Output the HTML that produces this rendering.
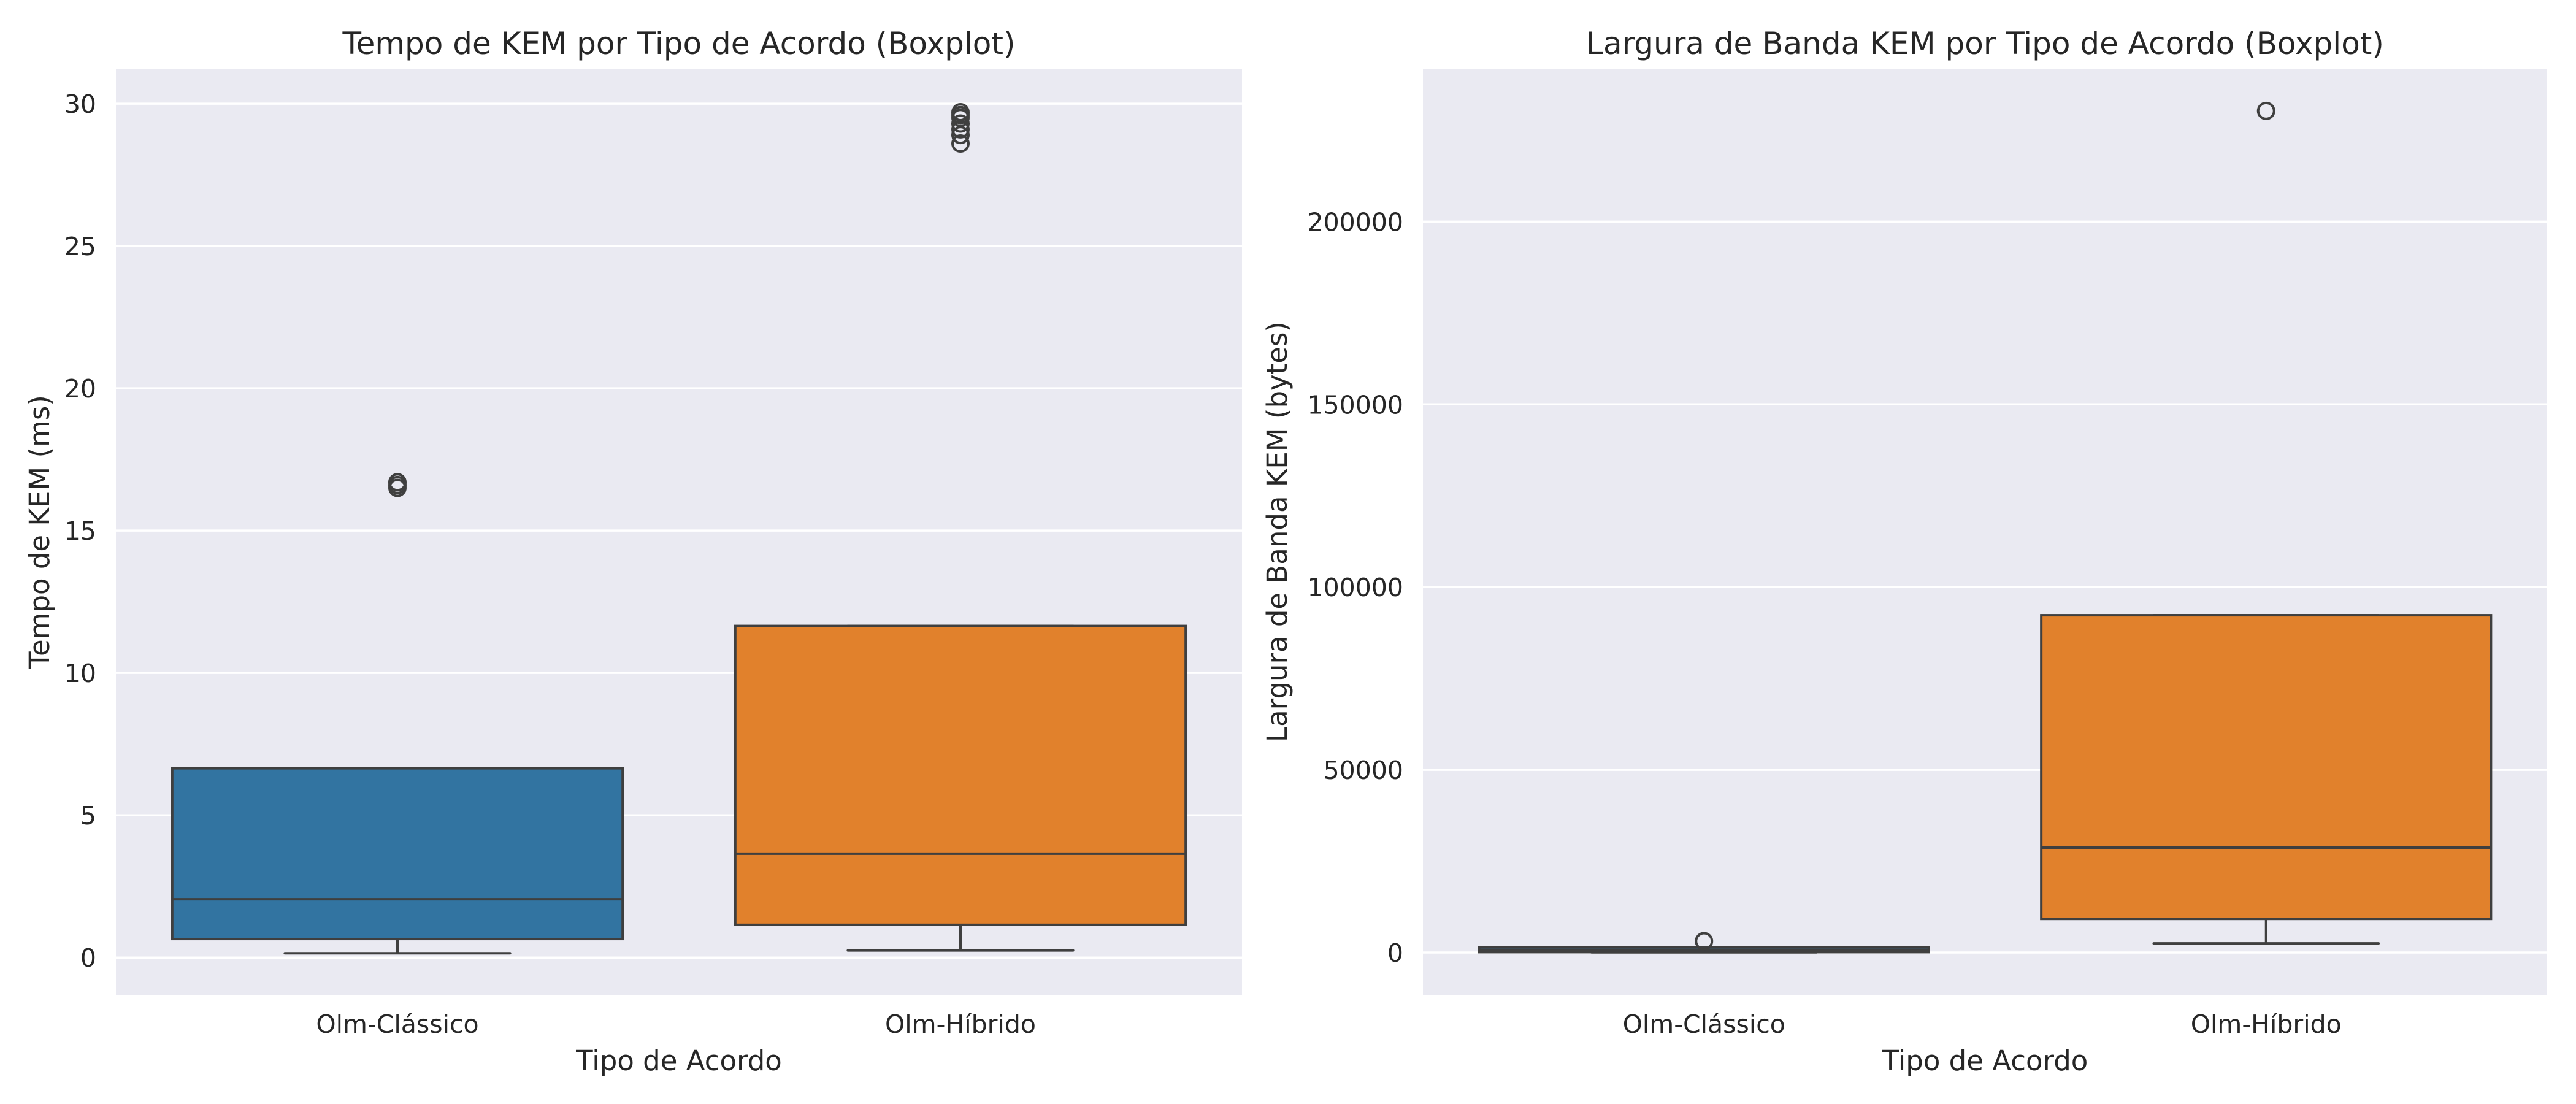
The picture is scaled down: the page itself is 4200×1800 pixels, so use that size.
<!DOCTYPE html>
<html><head><meta charset="utf-8"><style>
html,body{margin:0;padding:0;background:#fff;}
svg{display:block;font-family:"DejaVu Sans","Liberation Sans",sans-serif;fill:#262626;}
</style></head><body>
<svg id="chart" width="4200" height="1800" xmlns="http://www.w3.org/2000/svg"></svg>
<script>
// ---- data ----
const categories = ["Olm-Clássico", "Olm-Híbrido"];
const colors = ["#3274a1", "#e1812c"];
// left: KEM time (ms)
const timeQ1 = [0.65, 1.15];
const timeMedian = [2.05, 3.65];
const timeQ3 = [6.65, 11.65];
const timeWhiskerLow = [0.15, 0.25];
const timeWhiskerHigh = [6.65, 11.65];
const timeOutliers = [[16.5, 16.6, 16.7], [28.6, 28.9, 29.1, 29.3, 29.5, 29.6, 29.7]];
const timeTicks = [0, 5, 10, 15, 20, 25, 30];
// right: KEM bandwidth (bytes)
const bwQ1 = [100, 9200];
const bwMedian = [800, 28700];
const bwQ3 = [1500, 92300];
const bwWhiskerLow = [50, 2500];
const bwWhiskerHigh = [1500, 92300];
const bwOutliers = [[3100], [230300]];
const bwTicks = [0, 50000, 100000, 150000, 200000];

const NS = "http://www.w3.org/2000/svg";
const svg = document.getElementById("chart");
function mk(tag, attrs, parent) {
  const e = document.createElementNS(NS, tag);
  for (const k in attrs) e.setAttribute(k, attrs[k]);
  (parent || svg).appendChild(e);
  return e;
}

function panel(cfg) {
  const g = mk("g", {});
  
  
  const {x0, x1, y0, y1, dmin, dmax} = cfg;
  const ys = v => y1 - (v - dmin) / (dmax - dmin) * (y1 - y0);
  const band = (x1 - x0) / categories.length;
  const xs = i => x0 + band * (i + 0.5);
  const bg = mk("rect", {x: x0, y: y0, width: x1 - x0, height: y1 - y0, fill: "#eaeaf2"}, g);
  
  
  cfg.ticks.forEach(t => {
    const ln = mk("line", {x1: x0, x2: x1, y1: ys(t), y2: ys(t), stroke: "#fff", "stroke-width": 3.5}, g);
    
    
    const tx = mk("text", {x: x0 - 32, y: ys(t) + 15, "text-anchor": "end", "font-size": 41}, g);
    tx.textContent = t;
    
    
  });
  const bw = band * 0.8;
  categories.forEach((c, i) => {
    const cx = xs(i);
    const bg2 = mk("g", {}, g);
    
    
    const ed = "#3f3f3f";
    mk("line", {x1: cx, x2: cx, y1: ys(cfg.q1[i]), y2: ys(cfg.wl[i]), stroke: ed, "stroke-width": 4}, bg2);
    mk("line", {x1: cx - bw / 4, x2: cx + bw / 4, y1: ys(cfg.wl[i]), y2: ys(cfg.wl[i]), stroke: ed, "stroke-width": 4, "stroke-linecap": "round"}, bg2);
    mk("line", {x1: cx, x2: cx, y1: ys(cfg.q3[i]), y2: ys(cfg.wh[i]), stroke: ed, "stroke-width": 4}, bg2);
    mk("line", {x1: cx - bw / 4, x2: cx + bw / 4, y1: ys(cfg.wh[i]), y2: ys(cfg.wh[i]), stroke: ed, "stroke-width": 4, "stroke-linecap": "round"}, bg2);
    const top = ys(cfg.q3[i]), bot = ys(cfg.q1[i]);
    mk("rect", {x: cx - bw / 2, y: top, width: bw, height: Math.max(bot - top, 1), fill: colors[i], stroke: ed, "stroke-width": 4}, bg2);
    mk("line", {x1: cx - bw / 2, x2: cx + bw / 2, y1: ys(cfg.med[i]), y2: ys(cfg.med[i]), stroke: ed, "stroke-width": 4}, bg2);
    cfg.out[i].forEach(v => {
      const o = mk("circle", {cx: cx, cy: ys(v), r: 13, fill: "none", stroke: ed, "stroke-width": 4}, bg2);
      
      
    });
    const lb = mk("text", {x: cx, y: 1684, "text-anchor": "middle", "font-size": 41}, g);
    lb.textContent = c;
    
    
  });
  const xt = mk("text", {x: (x0 + x1) / 2, y: 1745, "text-anchor": "middle", "font-size": 45}, g);
  xt.textContent = "Tipo de Acordo";
  
  
  const yt = mk("text", {x: 0, y: 0, "text-anchor": "middle", "font-size": 45, transform: `translate(${cfg.ylx},${(y0 + y1) / 2}) rotate(-90)`}, g);
  yt.textContent = cfg.ylabel;
  
  
  const tt = mk("text", {x: (x0 + x1) / 2, y: 88, "text-anchor": "middle", "font-size": 50}, g);
  tt.textContent = cfg.title;
  
  
}

panel({name: "kem-time-panel", x0: 189, x1: 2025, y0: 112, y1: 1622, dmin: -1.31, dmax: 31.23,
  q1: timeQ1, med: timeMedian, q3: timeQ3, wl: timeWhiskerLow, wh: timeWhiskerHigh, out: timeOutliers,
  ticks: timeTicks, ylabel: "Tempo de KEM (ms)", ylx: 80, title: "Tempo de KEM por Tipo de Acordo (Boxplot)"});
panel({name: "kem-bandwidth-panel", x0: 2320, x1: 4153, y0: 112, y1: 1622, dmin: -11580, dmax: 241860,
  q1: bwQ1, med: bwMedian, q3: bwQ3, wl: bwWhiskerLow, wh: bwWhiskerHigh, out: bwOutliers,
  ticks: bwTicks, ylabel: "Largura de Banda KEM (bytes)", ylx: 2098, title: "Largura de Banda KEM por Tipo de Acordo (Boxplot)"});
</script>
</body></html>
